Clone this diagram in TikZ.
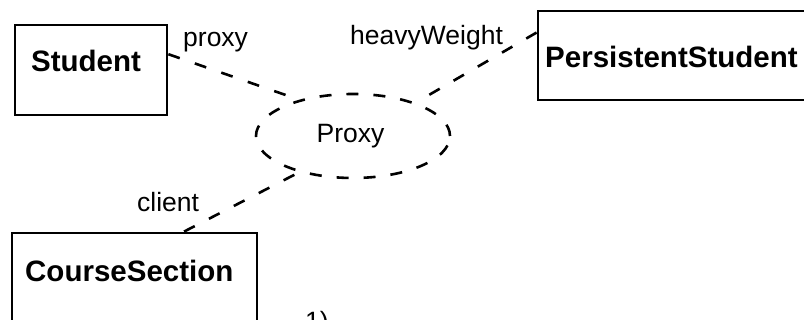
\documentclass[tikz,border=0pt]{standalone}
\usepackage{fontspec}
\setmainfont{Liberation Sans}
\usetikzlibrary{shapes.geometric,calc}

\tikzset{
  classbox/.style={draw=black, line width=2.8pt, fill=white, inner sep=0pt},
  classname/.style={anchor=base west, inner sep=0pt, font=\fontsize{29.5}{30}\bfseries\selectfont},
  rolename/.style={anchor=base west, inner sep=0pt, font=\fontsize{26.5}{28}\selectfont},
  collab/.style={draw=black, line width=2.6pt, dash pattern=on 12pt off 15pt, ellipse, inner sep=0pt},
  roleline/.style={draw=black, line width=2.6pt, dash pattern=on 12pt off 16pt}
}

\begin{document}
\begin{tikzpicture}[x=1pt,y=-1pt]
  \useasboundingbox (0,0) rectangle (804,320);
  \clip (0,0) rectangle (804,320);
  \fill[white] (0,0) rectangle (804,320);

  % classes
  \node[classbox, minimum width=152pt, minimum height=90pt] (student) at (91,70) {};
  \node[classbox, minimum width=292pt, minimum height=89pt] (persistent) at (684,55.5) {};
  \node[classbox, minimum width=245pt, minimum height=110pt] (course) at (134.5,288) {};

  \node[classname] (studentname) at (31,72) {Student};
  \node[classname] (persistentname) at (545,68) {PersistentStudent};
  \node[classname] (coursename) at (25,282) {CourseSection};

  % collaboration
  \node[collab, minimum width=194pt, minimum height=84pt] (proxy) at (353,136) {};
  \node[anchor=base, inner sep=0pt, font=\fontsize{26.5}{28}\selectfont] (proxyname) at (350.5,143) {Proxy};

  % role connectors
  \draw[roleline] ($(student.north east)!0.33!(student.south east)$) -- (proxy.146);
  \draw[roleline] ($(persistent.north west)!0.25!(persistent.south west)$) -- (proxy.28);
  \draw[roleline] ($(course.north west)!0.70!(course.north east)$) -- (proxy.214);

  % role names
  \node[rolename] (rproxy) at (183,47) {proxy};
  \node[rolename] (rheavy) at (350,45) {heavyWeight};
  \node[rolename] (rclient) at (137,212) {client};

  \node[rolename] (caption) at (305,331) {1)};
\end{tikzpicture}
\end{document}
